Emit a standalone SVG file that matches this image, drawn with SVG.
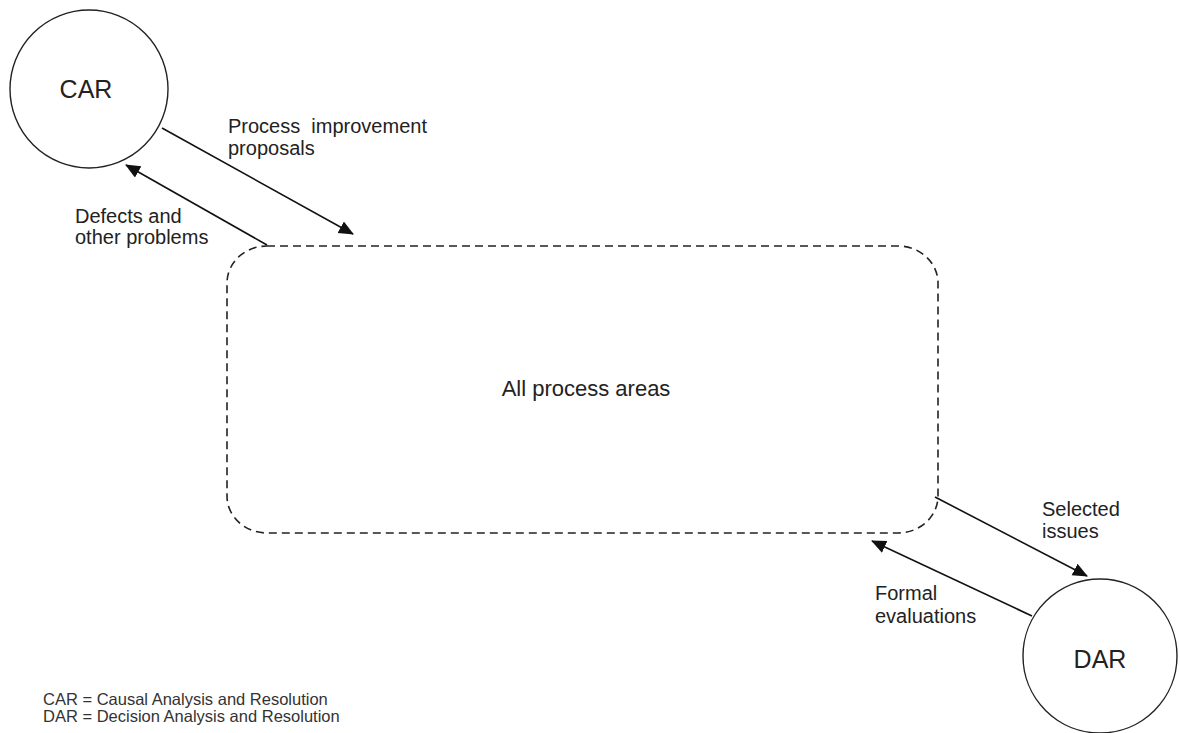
<svg xmlns="http://www.w3.org/2000/svg" width="1180" height="733" viewBox="0 0 1180 733">
  <style>
    .node { fill: #ffffff; stroke: #222222; stroke-width: 1.4; }
    .area { fill: none; stroke: #222222; stroke-width: 1.6; stroke-dasharray: 8 5; }
    .flow { fill: none; stroke: #111111; stroke-width: 1.6; marker-end: url(#head); }
    .name { font-family: "Liberation Sans", Arial, sans-serif; font-size: 25px; fill: #222222; text-anchor: middle; }
    .label { font-family: "Liberation Sans", Arial, sans-serif; font-size: 20px; fill: #222222; }
    .title { font-family: "Liberation Sans", Arial, sans-serif; font-size: 22px; fill: #222222; text-anchor: middle; }
    .legend { font-family: "Liberation Sans", Arial, sans-serif; font-size: 16.5px; fill: #333333; }
  </style>
  <defs>
    <marker id="head" markerUnits="userSpaceOnUse" markerWidth="16" markerHeight="14" refX="14" refY="6.5" orient="auto">
      <path d="M0,0 L15,6.5 L0,13 Z" fill="#111111"/>
    </marker>
  </defs>

  <rect width="1180" height="733" fill="#ffffff"/>

  <!-- Causal Analysis and Resolution -->
  <g id="car">
    <circle class="node" cx="89" cy="89" r="79"/>
    <text class="name" x="86" y="98">CAR</text>
  </g>

  <!-- process areas boundary -->
  <g id="all-process-areas">
    <rect class="area" x="227" y="246" width="711" height="287" rx="40" ry="37"/>
    <text class="title" x="586" y="396">All process areas</text>
  </g>

  <!-- Decision Analysis and Resolution -->
  <g id="dar">
    <circle class="node" cx="1100" cy="656" r="77"/>
    <text class="name" x="1100" y="668">DAR</text>
  </g>

  <!-- flows between the areas -->
  <g id="connectors">
    <line class="flow" x1="162" y1="128" x2="353" y2="234"/>
    <line class="flow" x1="267" y1="245" x2="126" y2="165"/>
    <line class="flow" x1="935" y1="497" x2="1087" y2="576"/>
    <line class="flow" x1="1032" y1="616" x2="872" y2="541"/>
  </g>

  <g id="flow-labels">
    <text class="label" x="228" y="133" xml:space="preserve">Process  improvement</text>
    <text class="label" x="228" y="155">proposals</text>
    <text class="label" x="75" y="223">Defects and</text>
    <text class="label" x="75" y="244">other problems</text>
    <text class="label" x="1042" y="516">Selected</text>
    <text class="label" x="1042" y="538">issues</text>
    <text class="label" x="875" y="600">Formal</text>
    <text class="label" x="875" y="623">evaluations</text>
  </g>

  <g id="legend">
    <text class="legend" x="43" y="705">CAR = Causal Analysis and Resolution</text>
    <text class="legend" x="43" y="722">DAR = Decision Analysis and Resolution</text>
  </g>
</svg>
